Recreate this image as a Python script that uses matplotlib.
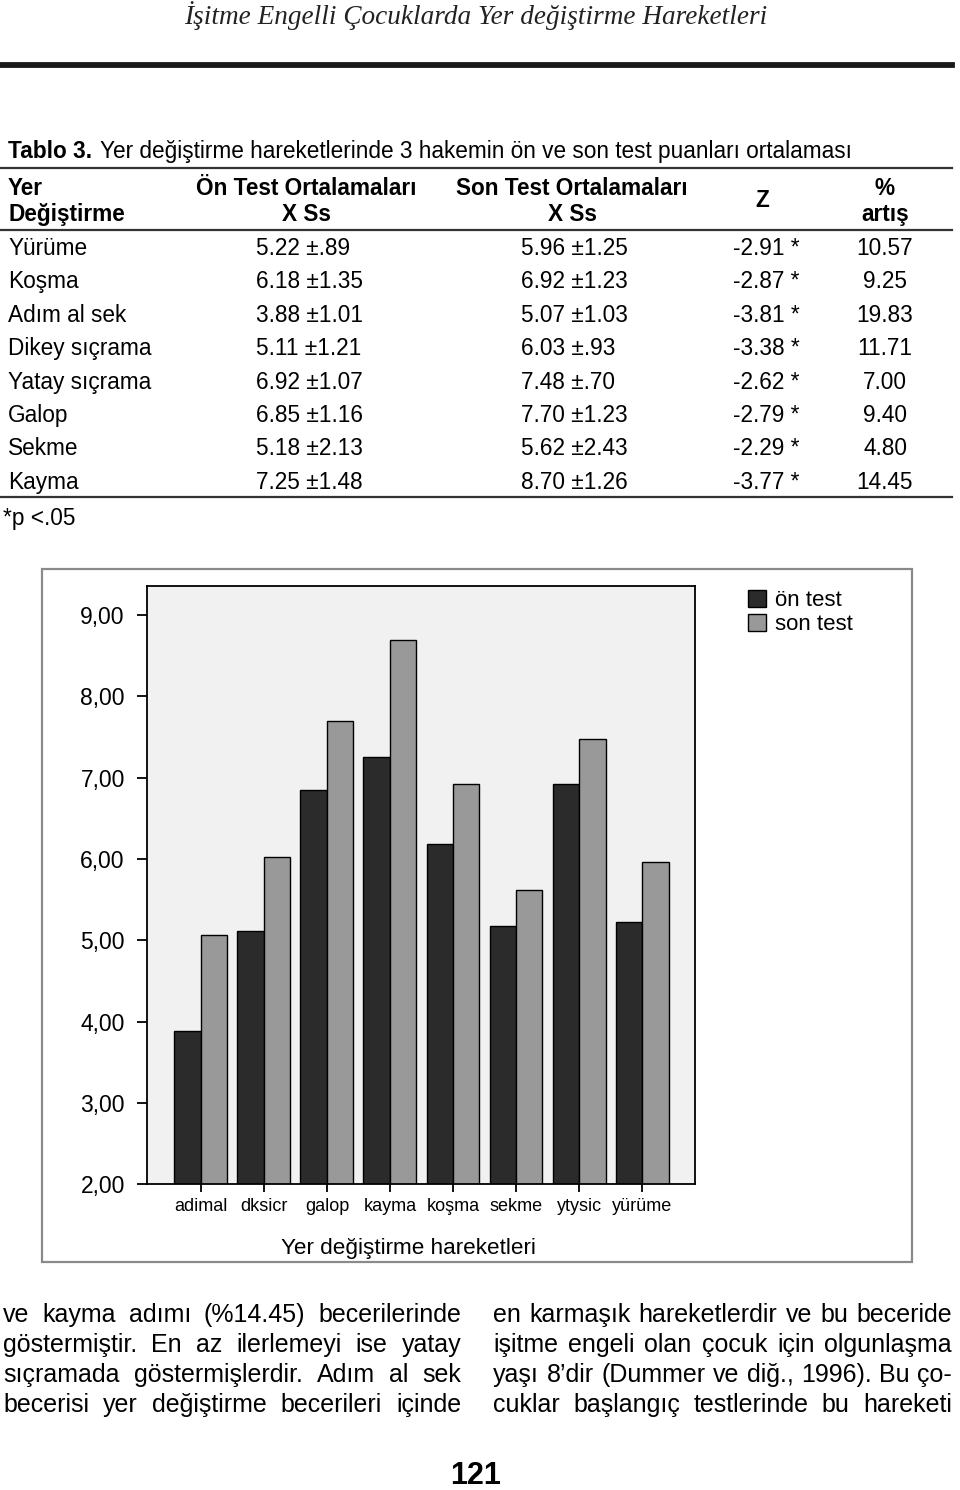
import matplotlib.pyplot as plt
from matplotlib.lines import Line2D
from matplotlib.patches import Rectangle, Patch
import numpy as np

plt.rcParams['font.family'] = ['Liberation Sans', 'DejaVu Sans']

W, H = 960, 1490

# table 3 data
moves = ["Yürüme", "Koşma", "Adım al sek", "Dikey sıçrama",
         "Yatay sıçrama", "Galop", "Sekme", "Kayma"]
pre_mean = [5.22, 6.18, 3.88, 5.11, 6.92, 6.85, 5.18, 7.25]
pre_sd = [0.89, 1.35, 1.01, 1.21, 1.07, 1.16, 2.13, 1.48]
post_mean = [5.96, 6.92, 5.07, 6.03, 7.48, 7.70, 5.62, 8.70]
post_sd = [1.25, 1.23, 1.03, 0.93, 0.70, 1.23, 2.43, 1.26]
z_vals = [-2.91, -2.87, -3.81, -3.38, -2.62, -2.79, -2.29, -3.77]
pct_gain = [10.57, 9.25, 19.83, 11.71, 7.00, 9.40, 4.80, 14.45]

# chart categories -> table rows
chart_labels = ["adimal", "dksicr", "galop", "kayma", "koşma", "sekme", "ytysic", "yürüme"]
chart_rows = [2, 3, 5, 7, 1, 6, 4, 0]
y_ticks = [2, 3, 4, 5, 6, 7, 8, 9]

left_col = ["ve kayma adımı (%14.45) becerilerinde",
            "göstermiştir. En az ilerlemeyi ise yatay",
            "sıçramada göstermişlerdir. Adım al sek",
            "becerisi yer değiştirme becerileri içinde"]
right_col = ["en karmaşık hareketlerdir ve bu beceride",
             "işitme engeli olan çocuk için olgunlaşma",
             "yaşı 8’dir (Dummer ve diğ., 1996). Bu ço-",
             "cuklar başlangıç testlerinde bu hareketi"]

fig = plt.figure(figsize=(W / 100, H / 100), dpi=100)
fig.patch.set_facecolor('white')
r = fig.canvas.get_renderer()


def fx(x):
    return x / W


def fy(y):
    return 1 - y / H


def put(x, y, s, **kw):
    return fig.text(fx(x), fy(y), s, **kw)


def hline(y, x0, x1, lw, color):
    fig.add_artist(Line2D([fx(x0), fx(x1)], [fy(y), fy(y)], lw=lw,
                          color=color, transform=fig.transFigure))


def sd_txt(v):
    s = f"{v:.2f}"
    return "±" + (s[1:] if s.startswith("0") else s)


def justify(lines, x0, x1, y0, step, size):
    for i, line in enumerate(lines):
        words = line.split()
        objs = [put(0, y0 + i * step, w, fontsize=size, va='baseline') for w in words]
        widths = [t.get_window_extent(r).width for t in objs]
        gap = (x1 - x0 - sum(widths)) / (len(words) - 1)
        x = x0
        for t, w in zip(objs, widths):
            t.set_x(fx(x))
            x += w + gap


# page header
put(476, 24, "İşitme Engelli Çocuklarda Yer değiştirme Hareketleri",
    family=['Liberation Serif', 'DejaVu Serif'], style='italic',
    fontsize=19.6, ha='center', va='baseline', color='#222222')
hline(65, 2, 952, 4.2, '#1a1a1a')

# table
fs = 16.3
t = put(8, 158, "Tablo 3.", fontsize=fs, weight='bold', va='baseline')
tw = t.get_window_extent(r).width
put(8 + tw + 8, 158, "Yer değiştirme hareketlerinde 3 hakemin ön ve son test puanları ortalaması",
    fontsize=fs, va='baseline')
hline(168, 0, 952, 1.6, '#333333')

put(8, 195, "Yer", fontsize=fs, weight='bold', va='baseline')
put(8, 221, "Değiştirme", fontsize=fs, weight='bold', va='baseline')
put(306, 195, "Ön Test Ortalamaları", fontsize=fs, weight='bold', va='baseline', ha='center')
put(306, 221, "X Ss", fontsize=fs, weight='bold', va='baseline', ha='center')
put(572, 195, "Son Test Ortalamaları", fontsize=fs, weight='bold', va='baseline', ha='center')
put(572, 221, "X Ss", fontsize=fs, weight='bold', va='baseline', ha='center')
put(762, 207, "Z", fontsize=fs, weight='bold', va='baseline', ha='center')
put(885, 195, "%", fontsize=fs, weight='bold', va='baseline', ha='center')
put(885, 221, "artış", fontsize=fs, weight='bold', va='baseline', ha='center')
hline(230, 0, 952, 1.6, '#333333')

for i, name in enumerate(moves):
    yb = 255 + i * 33.4
    put(8, yb, name, fontsize=fs, va='baseline')
    put(256, yb, f"{pre_mean[i]:.2f} {sd_txt(pre_sd[i])}", fontsize=fs, va='baseline')
    put(521, yb, f"{post_mean[i]:.2f} {sd_txt(post_sd[i])}", fontsize=fs, va='baseline')
    put(733, yb, f"{z_vals[i]:.2f} *", fontsize=fs, va='baseline')
    put(885, yb, f"{pct_gain[i]:.2f}", fontsize=fs, va='baseline', ha='center')
hline(497, 0, 952, 1.6, '#333333')
put(3, 525, "*p <.05", fontsize=fs, va='baseline')

# chart frame
fig.add_artist(Rectangle((fx(42), fy(1262)), fx(912) - fx(42), fy(569) - fy(1262),
                         transform=fig.transFigure, fill=False, edgecolor='#8a8a8a', lw=1.6))

ax = fig.add_axes([fx(147), fy(1184), fx(695) - fx(147), fy(586) - fy(1184)])
ax.set_facecolor('#f1f1f1')
x = np.arange(len(chart_labels))
pre = [pre_mean[k] for k in chart_rows]
post = [post_mean[k] for k in chart_rows]
bw = 0.42
ax.bar(x - bw / 2, pre, bw, color='#2b2b2b', edgecolor='black', lw=1.0, label='ön test')
ax.bar(x + bw / 2, post, bw, color='#999999', edgecolor='black', lw=1.0, label='son test')
ax.set_xlim(-0.855, 7.84)
ax.set_ylim(2, 9.36)
ax.set_yticks(y_ticks)
ax.set_yticklabels([f"{v:.2f}".replace('.', ',') for v in y_ticks], fontsize=16.5)
ax.set_xticks(x)
ax.set_xticklabels(chart_labels, fontsize=13)
ax.tick_params(axis='y', direction='out', length=7, width=1.3, pad=9)
ax.tick_params(axis='x', direction='out', length=6, width=1.3, pad=4)
for s in ax.spines.values():
    s.set_linewidth(1.3)
put(408, 1254, "Yer değiştirme hareketleri", fontsize=16.2, ha='center', va='baseline')

fig.legend(handles=[Patch(facecolor='#2b2b2b', edgecolor='black', label='ön test'),
                    Patch(facecolor='#999999', edgecolor='black', label='son test')],
           loc='upper left', bbox_to_anchor=(fx(737), fy(579)), frameon=False,
           fontsize=16, handlelength=0.8, handleheight=0.8, handletextpad=0.4,
           labelspacing=0.1, borderpad=0)

# body text
justify(left_col, 3, 461, 1322, 30, 18)
justify(right_col, 493, 952, 1322, 30, 18)

put(476, 1484, "121", fontsize=22, weight='bold', ha='center', va='baseline')

fig.savefig('out.png', dpi=100)
